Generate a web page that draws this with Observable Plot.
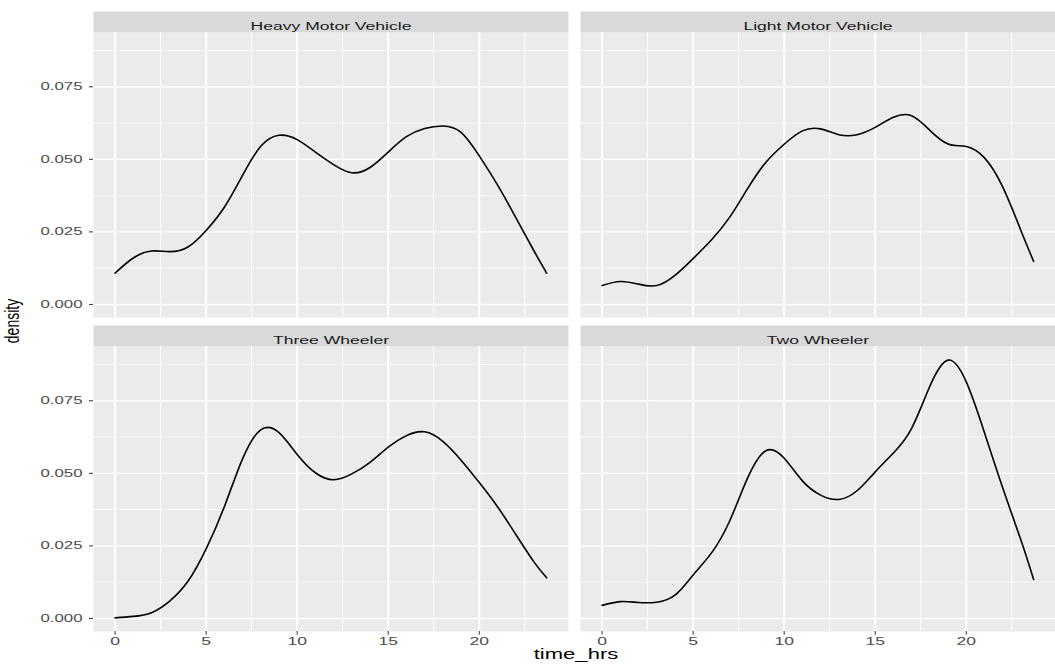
<!DOCTYPE html>
<html>
<head>
<meta charset="utf-8">
<script src="https://cdn.jsdelivr.net/npm/d3@7"></script>
<script src="https://cdn.jsdelivr.net/npm/@observablehq/plot@0.6"></script>
<style>
  html, body { margin: 0; padding: 0; background: #ffffff; overflow: hidden; }
  #chart { width: 1055px; height: 666px; }
</style>
</head>
<body>
<div id="chart"></div>
<script>
// ---- data ----
const vehicles = ["Heavy Motor Vehicle", "Light Motor Vehicle", "Three Wheeler", "Two Wheeler"];
const hours = [0,1,2,3,4,5,6,7,8,9,10,11,12,13,14,15,16,17,18,19,20,21,22,23,23.7];
const heavy = [0.0108,0.0160,0.0184,0.0182,0.0198,0.0255,0.0335,0.0445,0.0545,0.0583,0.0568,0.0525,0.0482,0.0454,0.0472,0.0525,0.0578,0.0606,0.0615,0.0593,0.0512,0.0412,0.0300,0.0185,0.0108];
const light = [0.0065,0.0079,0.0070,0.0065,0.0100,0.0158,0.0222,0.0300,0.0400,0.0490,0.0552,0.0598,0.0605,0.0585,0.0585,0.0610,0.0645,0.0650,0.0600,0.0553,0.0544,0.0505,0.0405,0.0255,0.0148];
const three = [0.0002,0.0007,0.0020,0.0060,0.0128,0.0240,0.0385,0.0550,0.0650,0.0640,0.0565,0.0502,0.0478,0.0498,0.0538,0.0590,0.0630,0.0643,0.0610,0.0545,0.0468,0.0385,0.0290,0.0195,0.0140];
const two = [0.0045,0.0058,0.0055,0.0056,0.0080,0.0150,0.0225,0.0335,0.0485,0.0578,0.0552,0.0474,0.0425,0.0410,0.0440,0.0505,0.0570,0.0655,0.0800,0.0890,0.0815,0.0640,0.0450,0.0270,0.0134];
const xTicks = [0, 5, 10, 15, 20];
const xMinor = [2.5, 7.5, 12.5, 17.5, 22.5];
const yTicks = [0, 0.025, 0.05, 0.075];
const yMinor = [0.0125, 0.0375, 0.0625, 0.0875];
const xTitle = "time_hrs";
const yTitle = "density";

// ---- tidy table ----
const series = [heavy, light, three, two];
const rows = [];
vehicles.forEach((name, i) => {
  hours.forEach((h, j) => rows.push({vehicle: name, col: i % 2, row: Math.floor(i / 2), t: h, v: series[i][j]}));
});
const strips = vehicles.map((name, i) => ({vehicle: name, col: i % 2, row: Math.floor(i / 2)}));

const chart = Plot.plot({
  width: 1055,
  height: 666,
  marginTop: 32,
  marginLeft: 93,
  marginRight: 0,
  marginBottom: 35,
  style: {fontFamily: "'Liberation Sans', Arial, sans-serif", background: "#ffffff"},
  fx: {axis: null, paddingInner: 0.02464, paddingOuter: 0, round: false},
  fy: {axis: null, paddingInner: 0.09236, paddingOuter: 0, round: false},
  x: {domain: [-1.185, 24.9]},
  y: {domain: [-0.0045, 0.0937]},
  marks: [
    Plot.frame({fill: "#EBEBEB"}),
    Plot.frame({fill: "#D9D9D9", insetTop: -21, insetBottom: 285}),
    Plot.gridX(xMinor, {stroke: "#ffffff", strokeOpacity: 1, strokeWidth: 1}),
    Plot.gridY(yMinor, {stroke: "#ffffff", strokeOpacity: 1, strokeWidth: 0.7}),
    Plot.gridX(xTicks, {stroke: "#ffffff", strokeOpacity: 1, strokeWidth: 2}),
    Plot.gridY(yTicks, {stroke: "#ffffff", strokeOpacity: 1, strokeWidth: 1.4}),
    Plot.axisY(yTicks, {anchor: "left", tickSize: 4, tickPadding: 7, tickFormat: d3.format(".3f"),
      fontSize: 11.2, stroke: "#333333", fill: "#4D4D4D", label: null}),
    Plot.axisX(xTicks, {anchor: "bottom", tickSize: 3.7, tickPadding: 1.5, tickFormat: d3.format("d"),
      fontSize: 11.7, stroke: "#333333", fill: "#4D4D4D", label: null}),
    Plot.line(rows, {x: "t", y: "v", fx: "col", fy: "row", curve: "natural", stroke: "#000000", strokeWidth: 1.6}),
    Plot.text(strips, {fx: "col", fy: "row", text: "vehicle", frameAnchor: "top", dy: -10.5,
      fontSize: 11.7, fill: "#1A1A1A"})
  ]
});

document.getElementById("chart").append(chart);

const svg = d3.select(chart);
svg.append("text")
  .attr("x", 576).attr("y", 659)
  .attr("text-anchor", "middle")
  .attr("font-size", 14.7)
  .attr("fill", "#000000")
  .text(xTitle);

// horizontally stretched text, as in the reference picture
chart.querySelectorAll("text").forEach(t => {
  const w = t.getComputedTextLength();
  if (w > 0) {
    t.setAttribute("textLength", (w * 1.5).toFixed(1));
    t.setAttribute("lengthAdjust", "spacingAndGlyphs");
  }
});

svg.append("text")
  .attr("transform", "translate(19,321) scale(1.5,1) rotate(-90)")
  .attr("text-anchor", "middle")
  .attr("font-size", 14)
  .attr("fill", "#000000")
  .text(yTitle);
</script>
</body>
</html>
